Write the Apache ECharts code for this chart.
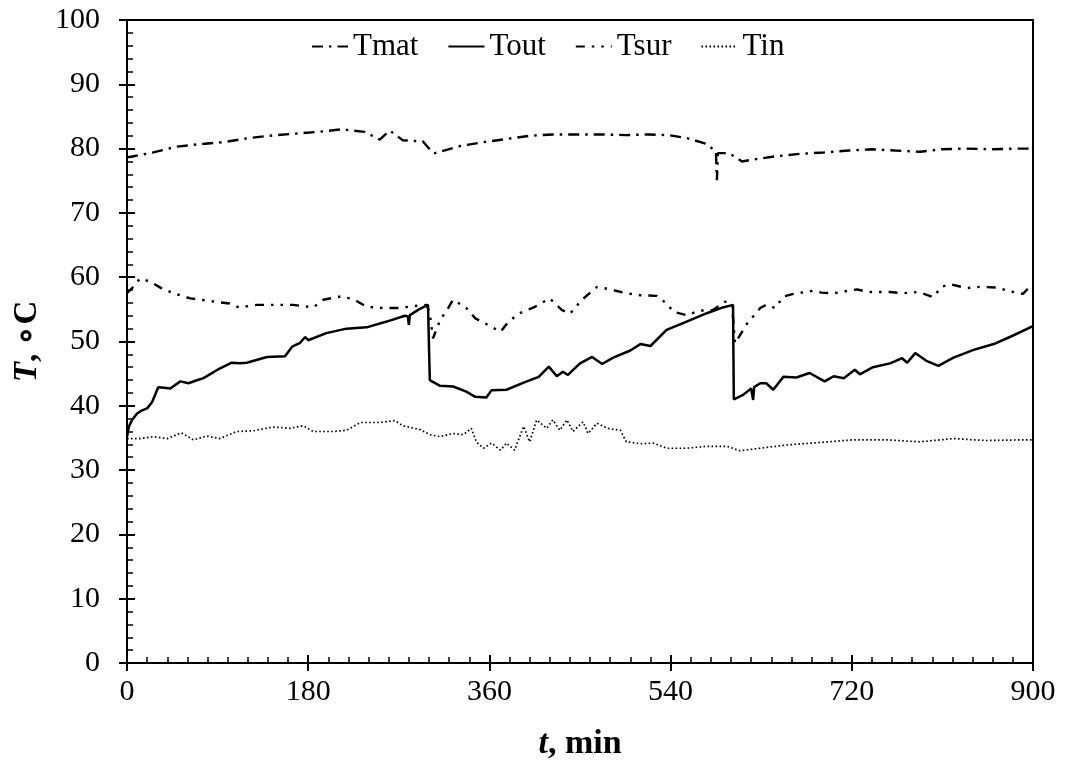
<!DOCTYPE html>
<html>
<head>
<meta charset="utf-8">
<script src="https://cdn.jsdelivr.net/npm/echarts@6/dist/echarts.min.js"></script>
<style>
  html, body { margin: 0; padding: 0; background: #fff; }
  #main { width: 1069px; height: 767px; }
</style>
</head>
<body>
<div id="main"></div>
<script>
// x axis ticks (min)
const xTicks = [0, 180, 360, 540, 720, 900];

// [t (min), T (°C)]
const tmat = [
  [0, 78.7], [3, 78.7], [26, 79.4], [49, 80.3], [73, 80.7], [96, 81.0], [119, 81.6],
  [142, 82.0], [165, 82.3], [190, 82.6], [213, 83.0], [236, 82.6], [251, 81.4],
  [261, 82.8], [274, 81.3], [294, 81.1], [304, 79.3], [306, 79.3], [331, 80.4],
  [354, 81.0], [377, 81.5], [400, 82.0], [423, 82.2], [448, 82.2], [471, 82.2],
  [496, 82.1], [518, 82.2], [538, 82.1], [557, 81.6], [574, 80.8], [585, 79.6],
  [586, 75.1], [587, 79.3], [596, 79.3], [601, 79.0], [611, 78.0], [622, 78.3],
  [644, 78.8], [669, 79.2], [692, 79.4], [717, 79.7], [740, 79.9], [763, 79.7],
  [788, 79.5], [809, 79.9], [834, 80.0], [859, 79.9], [882, 80.0], [900, 80.0]
];

const tout = [
  [0, 35.2], [2, 36.8], [5, 37.8], [10, 38.8], [15, 39.3], [20, 39.6], [25, 40.6],
  [31, 42.9], [37, 42.8], [43, 42.7], [53, 43.8], [61, 43.5], [68, 43.9], [76, 44.3],
  [92, 45.8], [104, 46.7], [112, 46.6], [119, 46.7], [139, 47.6], [157, 47.7],
  [164, 49.2], [172, 49.8], [177, 50.7], [180, 50.2], [198, 51.3], [218, 52.0],
  [238, 52.2], [258, 53.1], [276, 54.0], [279, 53.9], [280, 52.6], [281, 54.1],
  [290, 55.0], [299, 55.7], [300, 55.9], [300.8, 44.0], [311, 43.1], [324, 43.0],
  [337, 42.2], [346, 41.4], [357, 41.3], [362, 42.4], [377, 42.5], [394, 43.6],
  [409, 44.5], [419, 46.1], [427, 44.6], [433, 45.3], [438, 44.8], [450, 46.6],
  [462, 47.6], [472, 46.5], [483, 47.5], [500, 48.6], [510, 49.6], [520, 49.3],
  [536, 51.8], [556, 53.1], [576, 54.4], [592, 55.3], [602, 55.7], [602.8, 41.0],
  [612, 41.7], [620, 42.7], [621, 42.4], [622, 40.9], [623, 42.9], [629, 43.5],
  [635, 43.5], [642, 42.5], [652, 44.5], [665, 44.4], [678, 45.1], [693, 43.8],
  [702, 44.6], [712, 44.3], [723, 45.6], [728, 44.9], [741, 46.0], [758, 46.6],
  [770, 47.4], [775, 46.7], [783, 48.2], [794, 47.0], [806, 46.2], [821, 47.5],
  [841, 48.7], [861, 49.6], [877, 50.7], [900, 52.4]
];

const tsur = [
  [0, 57.5], [1, 57.7], [5, 58.3], [13, 59.8], [23, 59.3], [34, 58.3], [46, 57.5],
  [63, 56.7], [73, 56.5], [87, 56.2], [102, 55.9], [111, 55.3], [129, 55.7],
  [145, 55.7], [165, 55.7], [185, 55.3], [195, 56.5], [212, 57.0], [225, 56.6],
  [238, 55.4], [255, 55.2], [271, 55.2], [284, 55.5], [298, 55.7], [301, 54.0],
  [304, 50.5], [311, 53.3], [319, 55.2], [324, 56.5], [337, 55.2], [346, 53.6],
  [356, 52.8], [371, 51.5], [379, 53.1], [390, 54.4], [404, 55.3], [420, 56.7],
  [432, 54.9], [440, 54.3], [452, 56.5], [467, 58.5], [480, 58.1], [496, 57.5],
  [510, 57.2], [526, 57.1], [536, 55.9], [543, 54.6], [556, 54.1], [569, 54.8],
  [582, 54.9], [594, 56.2], [601, 55.9], [604, 49.7], [609, 51.0], [616, 52.8],
  [622, 53.9], [629, 55.2], [635, 55.7], [644, 55.2], [652, 57.0], [662, 57.4],
  [682, 57.9], [690, 57.6], [702, 57.5], [725, 58.1], [736, 57.7], [758, 57.7],
  [770, 57.5], [786, 57.7], [801, 56.9], [809, 58.5], [818, 58.9], [834, 58.3],
  [847, 58.5], [864, 58.4], [877, 57.8], [890, 57.4], [900, 59.0]
];

const tin = [
  [0, 34.9], [13, 34.9], [26, 35.2], [40, 34.9], [54, 35.8], [66, 34.7], [79, 35.3],
  [92, 34.9], [109, 36.0], [125, 36.1], [145, 36.7], [162, 36.5], [175, 36.9],
  [185, 36.0], [205, 36.0], [218, 36.2], [232, 37.4], [251, 37.4], [266, 37.7],
  [274, 36.9], [291, 36.3], [301, 35.5], [311, 35.2], [324, 35.7], [334, 35.5],
  [342, 36.5], [347, 34.4], [354, 33.4], [362, 34.2], [371, 33.1], [377, 34.2],
  [385, 33.1], [394, 36.8], [400, 34.4], [407, 37.8], [417, 36.5], [423, 37.8],
  [430, 36.2], [437, 37.8], [443, 36.0], [453, 37.5], [458, 35.7], [467, 37.3],
  [477, 36.5], [490, 36.2], [496, 34.4], [510, 34.1], [523, 34.2], [536, 33.4],
  [556, 33.4], [576, 33.7], [596, 33.7], [609, 33.0], [629, 33.4], [655, 33.9],
  [688, 34.3], [721, 34.7], [755, 34.7], [788, 34.4], [821, 34.9], [854, 34.6],
  [887, 34.7], [900, 34.7]
];

const font = 'Liberation Serif';

let myChart = echarts.init(document.getElementById('main'));

// ticks cross the axis: one axis draws the outer half, a twin draws the inner half + minor ticks
let option = {
  animation: false,
  textStyle: { fontFamily: font, color: '#000' },
  grid: {
    left: 127, right: 36, top: 20, bottom: 104,
    show: true, borderColor: '#000', borderWidth: 2, backgroundColor: 'transparent'
  },
  legend: {
    top: 26,
    left: 306,
    itemWidth: 36,
    itemHeight: 10,
    itemGap: 29,
    itemStyle: { opacity: 0 },
    textStyle: { fontFamily: font, fontSize: 31, color: '#000', padding: [0, 0, 0, 0] },
    data: ['Tmat', 'Tout', 'Tsur', 'Tin']
  },
  xAxis: [
    {
      type: 'value', min: 0, max: 900, interval: 180,
      name: '{i|t}, min',
      nameLocation: 'middle',
      nameGap: 64,
      nameTextStyle: {
        fontFamily: font, fontSize: 34, fontWeight: 'bold', color: '#000',
        rich: { i: { fontFamily: font, fontSize: 34, fontWeight: 'bold', fontStyle: 'italic', color: '#000' } }
      },
      axisLine: { show: true, lineStyle: { color: '#000', width: 2 } },
      axisTick: { show: true, inside: false, length: 8, lineStyle: { color: '#000', width: 2 } },
      axisLabel: { fontFamily: font, fontSize: 30, color: '#000', margin: 14,
        formatter: v => xTicks.includes(v) ? String(v) : '' },
      splitLine: { show: false }
    },
    {
      type: 'value', min: 0, max: 900, interval: 180, position: 'bottom',
      axisLine: { show: false },
      axisTick: { show: true, inside: true, length: 8, lineStyle: { color: '#000', width: 2 } },
      minorTick: { show: true, splitNumber: 9, length: 6, lineStyle: { color: '#000', width: 1.5 } },
      axisLabel: { show: false },
      splitLine: { show: false }
    }
  ],
  yAxis: [
    {
      type: 'value', min: 0, max: 100, interval: 10,
      name: '{i|T}, \u2218C',
      nameLocation: 'middle',
      nameRotate: 90,
      nameGap: 80,
      nameTextStyle: {
        fontFamily: font, fontSize: 33, fontWeight: 'bold', color: '#000',
        rich: { i: { fontFamily: font, fontSize: 33, fontWeight: 'bold', fontStyle: 'italic', color: '#000' } }
      },
      axisLine: { show: true, lineStyle: { color: '#000', width: 2 } },
      axisTick: { show: true, inside: false, length: 8, lineStyle: { color: '#000', width: 2 } },
      axisLabel: { fontFamily: font, fontSize: 30, color: '#000', margin: 27 },
      splitLine: { show: false }
    },
    {
      type: 'value', min: 0, max: 100, interval: 10, position: 'left',
      axisLine: { show: false },
      axisTick: { show: true, inside: true, length: 8, lineStyle: { color: '#000', width: 2 } },
      minorTick: { show: true, splitNumber: 5, length: 6, lineStyle: { color: '#000', width: 1.5 } },
      axisLabel: { show: false },
      splitLine: { show: false }
    }
  ],
  series: [
    {
      name: 'Tmat', type: 'line', data: tmat, symbol: 'none', smooth: false,
      lineStyle: { color: '#000', width: 2.4, type: [11, 6, 2.5, 6] },
      itemStyle: { color: '#000' }
    },
    {
      name: 'Tout', type: 'line', data: tout, symbol: 'none',
      lineStyle: { color: '#000', width: 2.5, type: 'solid' },
      itemStyle: { color: '#000' }
    },
    {
      name: 'Tsur', type: 'line', data: tsur, symbol: 'none',
      lineStyle: { color: '#000', width: 2.4, type: [9, 7, 2.5, 7, 2.5, 7] },
      itemStyle: { color: '#000' }
    },
    {
      name: 'Tin', type: 'line', data: tin, symbol: 'none',
      lineStyle: { color: '#000', width: 1.7, type: [1.6, 2.4] },
      itemStyle: { color: '#000' }
    }
  ]
};

myChart.setOption(option);
</script>
</body>
</html>
